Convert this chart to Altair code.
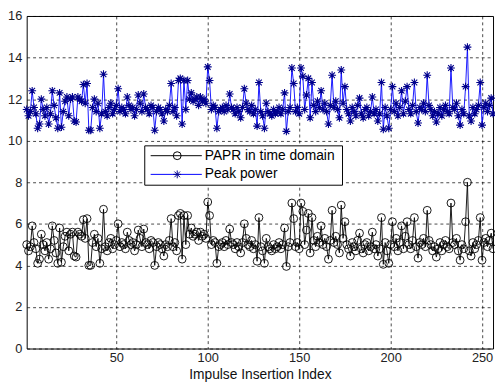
import altair as alt
import pandas as pd

# ---------------- data ----------------
peak_power = [
    11.5, 11.2, 11.4, 12.4, 11.6, 11.3, 10.6, 10.8, 12.0, 11.5, 11.2, 11.6, 10.8, 11.3, 12.4, 11.7,
    11.1, 10.6, 12.3, 10.65, 11.4, 11.9, 12.1, 11.2, 12.0, 12.1, 10.95, 10.9, 12.1, 12.0, 11.9, 12.7,
    11.8, 12.75, 10.5, 10.5, 11.6, 12.0, 11.4, 11.8, 10.6, 11.3, 13.2, 11.4, 11.2, 11.6, 11.8, 11.3,
    11.5, 11.7, 12.5, 11.4, 11.6, 11.5, 11.3, 12.1, 11.7, 11.5, 11.6, 11.2, 11.5, 12.2, 11.8, 11.4,
    12.25, 11.6, 11.5, 11.3, 11.7, 11.6, 10.5, 11.4, 11.6, 11.5, 11.3, 10.95, 11.5, 11.4, 11.7, 12.75,
    11.4, 11.6, 11.2, 12.9, 13.0, 10.8, 12.9, 11.5, 12.9, 12.0, 12.3, 11.9, 12.0, 12.1, 11.7, 12.1,
    11.9, 12.0, 11.8, 13.55, 12.9, 11.5, 11.7, 11.6, 10.6, 11.4, 11.5, 11.6, 11.4, 11.7, 11.5, 12.25,
    11.6, 11.5, 11.3, 11.6, 11.4, 11.1, 11.6, 12.5, 11.8, 11.5, 11.4, 11.7, 11.3, 11.5, 10.7, 12.8,
    11.4, 11.2, 10.6, 11.8, 11.4, 11.3, 11.2, 11.5, 11.3, 11.4, 11.6, 11.3, 11.5, 12.3, 10.45, 11.4,
    11.6, 13.5, 12.75, 11.4, 11.6, 11.3, 13.5, 13.1, 11.5, 12.2, 13.0, 11.1, 12.8, 11.7, 11.4, 11.9,
    11.6, 12.4, 11.5, 11.8, 11.4, 10.8, 11.7, 13.15, 11.6, 11.9, 11.5, 11.1, 13.4, 11.8, 12.6, 11.5,
    11.3, 10.95, 11.6, 11.4, 11.2, 11.7, 12.05, 11.3, 11.1, 11.5, 11.6, 11.2, 11.4, 12.1, 11.3, 11.5,
    10.95, 11.3, 12.8, 10.55, 11.6, 11.2, 10.6, 11.5, 12.6, 11.4, 11.8, 11.2, 11.6, 12.4, 11.3, 11.9,
    12.6, 11.5, 11.3, 11.7, 12.8, 11.4, 10.85, 11.6, 11.5, 11.8, 11.4, 13.15, 11.7, 11.5, 11.2, 11.4,
    10.9, 11.3, 11.6, 11.2, 11.5, 11.7, 11.4, 11.3, 13.5, 11.6, 11.5, 11.8, 11.2, 10.75, 11.5, 11.3,
    12.6, 14.5, 11.2, 10.95, 11.6, 11.3, 11.5, 11.7, 12.8, 10.75, 11.6, 11.8, 11.4, 11.7, 12.05, 11.3,
]

papr = [
    5.0, 4.7, 4.9, 5.9, 5.1, 4.8, 4.1, 4.3, 5.5, 5.0, 4.7, 5.1, 4.3, 4.8, 5.9, 5.2,
    4.6, 4.1, 5.8, 4.15, 4.9, 5.4, 5.6, 4.7, 5.5, 5.6, 4.45, 4.4, 5.6, 5.5, 5.4, 6.2,
    5.3, 6.25, 4.0, 4.0, 5.1, 5.5, 4.9, 5.3, 4.1, 4.8, 6.7, 4.9, 4.7, 5.1, 5.3, 4.8,
    5.0, 5.2, 6.0, 4.9, 5.1, 5.0, 4.8, 5.6, 5.2, 5.0, 5.1, 4.7, 5.0, 5.7, 5.3, 4.9,
    5.75, 5.1, 5.0, 4.8, 5.2, 5.1, 4.0, 4.9, 5.1, 5.0, 4.8, 4.45, 5.0, 4.9, 5.2, 6.25,
    4.9, 5.1, 4.7, 6.4, 6.5, 4.3, 6.4, 5.0, 6.4, 5.5, 5.8, 5.4, 5.5, 5.6, 5.2, 5.6,
    5.4, 5.5, 5.3, 7.05, 6.4, 5.0, 5.2, 5.1, 4.1, 4.9, 5.0, 5.1, 4.9, 5.2, 5.0, 5.75,
    5.1, 5.0, 4.8, 5.1, 4.9, 4.6, 5.1, 6.0, 5.3, 5.0, 4.9, 5.2, 4.8, 5.0, 4.2, 6.3,
    4.9, 4.7, 4.1, 5.3, 4.9, 4.8, 4.7, 5.0, 4.8, 4.9, 5.1, 4.8, 5.0, 5.8, 3.95, 4.9,
    5.1, 7.0, 6.25, 4.9, 5.1, 4.8, 7.0, 6.6, 5.0, 5.7, 6.5, 4.6, 6.3, 5.2, 4.9, 5.4,
    5.1, 5.9, 5.0, 5.3, 4.9, 4.3, 5.2, 6.65, 5.1, 5.4, 5.0, 4.6, 6.9, 5.3, 6.1, 5.0,
    4.8, 4.45, 5.1, 4.9, 4.7, 5.2, 5.55, 4.8, 4.6, 5.0, 5.1, 4.7, 4.9, 5.6, 4.8, 5.0,
    4.45, 4.8, 6.3, 4.05, 5.1, 4.7, 4.1, 5.0, 6.1, 4.9, 5.3, 4.7, 5.1, 5.9, 4.8, 5.4,
    6.1, 5.0, 4.8, 5.2, 6.3, 4.9, 4.35, 5.1, 5.0, 5.3, 4.9, 6.65, 5.2, 5.0, 4.7, 4.9,
    4.4, 4.8, 5.1, 4.7, 5.0, 5.2, 4.9, 4.8, 7.0, 5.1, 5.0, 5.3, 4.7, 4.25, 5.0, 4.8,
    6.1, 8.0, 4.7, 4.45, 5.1, 4.8, 5.0, 5.2, 6.3, 4.25, 5.1, 5.3, 4.9, 5.2, 5.55, 4.8,
]

index = list(range(1, 257))
series_names = ["PAPR in time domain", "Peak power"]
x_ticks = [50, 100, 150, 200, 250]
y_ticks = [0, 2, 4, 6, 8, 10, 12, 14, 16]

FONT = "Liberation Sans"
ASTERISK = "M-1,0L1,0M0,-1L0,1M-0.72,-0.72L0.72,0.72M-0.72,0.72L0.72,-0.72"

df_papr = pd.DataFrame({"idx": index, "value": papr})
df_peak = pd.DataFrame({"idx": index, "value": peak_power})

x_enc = alt.X(
    "idx:Q",
    scale=alt.Scale(domain=[1, 256], nice=False, zero=False),
    axis=alt.Axis(values=x_ticks, title="Impulse Insertion Index", grid=True),
)
y_enc = alt.Y(
    "value:Q",
    scale=alt.Scale(domain=[0, 16], nice=False),
    axis=alt.Axis(values=y_ticks, title=None, grid=True),
)

papr_line = alt.Chart(df_papr).mark_line(color="black", strokeWidth=0.9).encode(x=x_enc, y=y_enc)
papr_pts = alt.Chart(df_papr).mark_point(
    shape="circle", filled=False, color="black", size=64, strokeWidth=0.9, opacity=1
).encode(x="idx:Q", y="value:Q")

peak_line = alt.Chart(df_peak).mark_line(color="#0000ff", strokeWidth=0.9).encode(x="idx:Q", y="value:Q")
peak_pts = alt.Chart(df_peak).mark_point(
    shape=ASTERISK, filled=False, color="#00008c", size=64, strokeWidth=1.1, opacity=1
).encode(x="idx:Q", y="value:Q")

# ---------------- legend (drawn as marks) ----------------
leg_df = pd.DataFrame({"label": series_names})
box = alt.Chart(leg_df.head(1)).mark_rect(fill="white", stroke="black", strokeWidth=1).encode(
    x=alt.value(120), x2=alt.value(321), y=alt.value(132), y2=alt.value(172)
)
legend_layers = [box]
row_y = [142, 161]
row_color = ["black", "#0000ff"]
row_marker_color = ["black", "#00008c"]
row_shape = ["circle", ASTERISK]
for i, name in enumerate(series_names):
    d = pd.DataFrame({"label": [name]})
    legend_layers.append(
        alt.Chart(d).mark_rule(color=row_color[i], strokeWidth=1).encode(
            x=alt.value(126), x2=alt.value(178), y=alt.value(row_y[i])
        )
    )
    legend_layers.append(
        alt.Chart(d).mark_point(
            shape=row_shape[i], filled=False, color=row_marker_color[i], size=64, opacity=1, strokeWidth=1
        ).encode(x=alt.value(153), y=alt.value(row_y[i]))
    )
    legend_layers.append(
        alt.Chart(d).mark_text(align="left", baseline="middle", fontSize=14, font=FONT, color="black").encode(
            x=alt.value(181), y=alt.value(row_y[i]), text="label:N"
        )
    )

chart = alt.layer(papr_line, papr_pts, peak_line, peak_pts, *legend_layers).properties(
    width=474,
    height=338,
    background="white",
    autosize=alt.AutoSizeParams(type="none"),
    padding={"left": 19, "top": 5, "right": 2, "bottom": 37},
).configure_view(
    stroke="black", strokeWidth=1
).configure_axis(
    ticks=False,
    domain=False,
    gridColor="#000000",
    gridDash=[3, 3],
    gridWidth=0.8,
    gridOpacity=0.9,
    labelFont=FONT,
    labelFontSize=13,
    labelColor="#222222",
    titleFont=FONT,
    titleFontSize=14,
    titleFontWeight="normal",
    titleColor="#111111",
).configure_axisX(
    labelPadding=3, titlePadding=3
).configure_axisY(
    labelPadding=5
)

chart.save("out.html", embed_options={"renderer": "svg", "actions": False})
